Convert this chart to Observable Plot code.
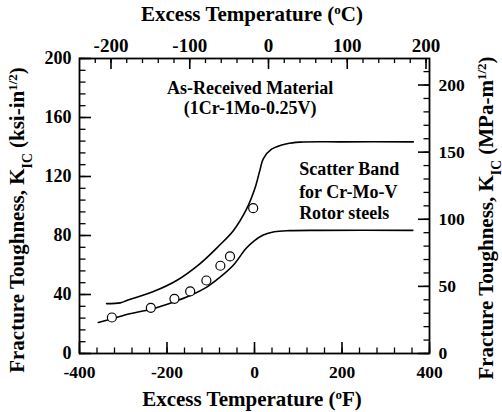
<!DOCTYPE html>
<html>
<head>
<meta charset="utf-8">
<script src="https://cdn.jsdelivr.net/npm/d3@7"></script>
<script src="https://cdn.jsdelivr.net/npm/@observablehq/plot@0.6"></script>
<style>
  html, body { margin: 0; padding: 0; background: white; }
</style>
</head>
<body>
<div id="chart"></div>
<script>
// ---- data ----
// upper scatter-band boundary: excess temperature (°F) vs KIC (ksi·in^1/2)
const upperF = [-338, -307, -292, -231, -178, -125, -83, -48, -18, 1, 13, 20, 39, 74, 104, 200, 363];
const upperK = [33.8, 34.3, 35.9, 42, 49.5, 60.8, 72.5, 83.4, 98, 112, 125, 132, 138.5, 142.2, 143.3, 143.5, 143.5];
// lower scatter-band boundary
const lowerF = [-357, -326, -285, -237, -186, -147, -109, -79, -48, -20, 0, 20, 45, 80, 150, 362];
const lowerK = [21, 23.5, 26.9, 30, 34.8, 39.3, 45, 51.7, 60, 71, 76.5, 80.3, 82.5, 83.3, 83.5, 83.5];
// as-received material data points
const pointF = [-326, -237, -183, -147, -110, -78, -56, -3];
const pointK = [24.4, 31, 37.1, 42.1, 49.5, 59.5, 65.8, 98.5];

// tick labels
const fTicks = [-400, -200, 0, 200, 400];        // bottom, °F
const cTicks = [-200, -100, 0, 100, 200];        // top, °C
const ksiTicks = [0, 40, 80, 120, 160, 200];     // left
const mpaTicks = [0, 50, 100, 150, 200];         // right
// minor tick steps
const fMinor = d3.range(-400, 401, 40);
const cMinor = d3.range(-220, 201, 20);
const ksiMinor = d3.range(0, 201, 8);
const mpaMinor = d3.range(0, 211, 10);

// annotations
const annoText = ["As-Received Material", "(1Cr-1Mo-0.25V)"];
const annoF = [-10, -10];
const annoK = [180, 166.6];
const bandText = ["Scatter Band", "for Cr-Mo-V", "Rotor steels"];
const bandF = [102, 102, 102];
const bandK = [125.2, 109.6, 95.3];

// ---- build tables ----
const upper = upperF.map((f, i) => ({F: f, K: upperK[i]}));
const lower = lowerF.map((f, i) => ({F: f, K: lowerK[i]}));
const points = pointF.map((f, i) => ({F: f, K: pointK[i]}));
const anno = annoText.map((t, i) => ({t, F: annoF[i], K: annoK[i]}));
const band = bandText.map((t, i) => ({t, F: bandF[i], K: bandK[i]}));

const c2f = c => c * 9 / 5 + 32;          // °C -> °F
const mpa2ksi = m => m / 1.0988;          // MPa·m^1/2 -> ksi·in^1/2

const W = 502, H = 412, mL = 79, mR = 73, mT = 58, mB = 59;
const iw = W - mL - mR, ih = H - mT - mB;
const FONT = "'Liberation Serif', 'Times New Roman', serif";
const isMajorF = d => d % 200 === 0;
const isMajorC = d => d % 100 === 0;
const isMajorK = d => d % 40 === 0;
const isMajorM = d => d % 50 === 0;

const chart = Plot.plot({
  width: W, height: H,
  marginLeft: mL, marginRight: mR, marginTop: mT, marginBottom: mB,
  x: {domain: [-400, 400], axis: null},
  y: {domain: [0, 200], axis: null},
  style: {fontFamily: FONT, background: "white", color: "black"},
  marks: [
    // ticks (inward)
    Plot.tickX(fMinor, {x: d => d, stroke: "black", strokeWidth: 1.3, insetTop: ih - 5.5}),
    Plot.tickX(fMinor.filter(isMajorF), {x: d => d, stroke: "black", strokeWidth: 1.6, insetTop: ih - 11}),
    Plot.tickX(cMinor, {x: c2f, stroke: "black", strokeWidth: 1.3, insetBottom: ih - 5}),
    Plot.tickX(cMinor.filter(isMajorC), {x: c2f, stroke: "black", strokeWidth: 1.6, insetBottom: ih - 11}),
    Plot.tickY(ksiMinor, {y: d => d, stroke: "black", strokeWidth: 1.3, insetRight: iw - 6.5}),
    Plot.tickY(ksiMinor.filter(isMajorK), {y: d => d, stroke: "black", strokeWidth: 1.6, insetRight: iw - 12}),
    Plot.tickY(mpaMinor, {y: mpa2ksi, stroke: "black", strokeWidth: 1.3, insetLeft: iw - 5.5}),
    Plot.tickY(mpaMinor.filter(isMajorM), {y: mpa2ksi, stroke: "black", strokeWidth: 1.6, insetLeft: iw - 11}),
    Plot.frame({stroke: "black", strokeWidth: 1.8}),
    // tick labels
    Plot.text(fTicks, {x: d => d, text: d => String(d), frameAnchor: "bottom", dy: 24,
      fontSize: 17.5, fontWeight: "bold", fill: "black"}),
    Plot.text(cTicks, {x: c2f, text: d => String(d), frameAnchor: "top", dy: -20,
      fontSize: 19, fontWeight: "bold", fill: "black"}),
    Plot.text(ksiTicks, {y: d => d, text: d => String(d), frameAnchor: "left", textAnchor: "end", dx: -8,
      fontSize: 18, fontWeight: "bold", fill: "black"}),
    Plot.text(mpaTicks, {y: mpa2ksi, text: d => String(d), frameAnchor: "right", textAnchor: "start", dx: 9,
      fontSize: 17.5, fontWeight: "bold", fill: "black"}),
    // scatter band
    Plot.line(upper, {x: "F", y: "K", curve: "catmull-rom", stroke: "black", strokeWidth: 1.6}),
    Plot.line(lower, {x: "F", y: "K", curve: "catmull-rom", stroke: "black", strokeWidth: 1.6}),
    // data points
    Plot.dot(points, {x: "F", y: "K", r: 4.5, stroke: "black", fill: "white", strokeWidth: 1.2}),
    // annotations
    Plot.text(anno, {x: "F", y: "K", text: "t", fontSize: 18, fontWeight: "bold", fill: "black"}),
    Plot.text(band, {x: "F", y: "K", text: "t", textAnchor: "start", fontSize: 18, fontWeight: "bold", fill: "black"})
  ]
});

// axis titles with super/subscripts
const svg = d3.select(chart);
function richText(parts, x, y, rotate, size) {
  const t = svg.append("text")
    .attr("font-family", FONT).attr("font-weight", "bold").attr("font-size", size)
    .attr("fill", "black").attr("text-anchor", "middle")
    .attr("transform", `translate(${x},${y})` + (rotate ? ` rotate(${rotate})` : ""));
  for (const p of parts) {
    const s = t.append("tspan").text(p.t);
    if (p.sup) s.attr("baseline-shift", "super").attr("font-size", size * 0.62);
    if (p.sub) s.attr("baseline-shift", "sub").attr("font-size", size * 0.65);
  }
  return t;
}
richText([{t: "Excess Temperature ("}, {t: "o", sup: true}, {t: "C)"}], 252, 21, 0, 21);
richText([{t: "Excess Temperature ("}, {t: "o", sup: true}, {t: "F)"}], 252, 406, 0, 21);
richText([{t: "Fracture Toughness, K"}, {t: "IC", sub: true}, {t: " (ksi-in"}, {t: "1/2", sup: true}, {t: ")"}], 24, 220, -90, 21);
richText([{t: "Fracture Toughness, K"}, {t: "IC", sub: true}, {t: " (MPa-m"}, {t: "1/2", sup: true}, {t: ")"}], 493, 218, -90, 21);

document.getElementById("chart").appendChild(chart);
</script>
</body>
</html>
